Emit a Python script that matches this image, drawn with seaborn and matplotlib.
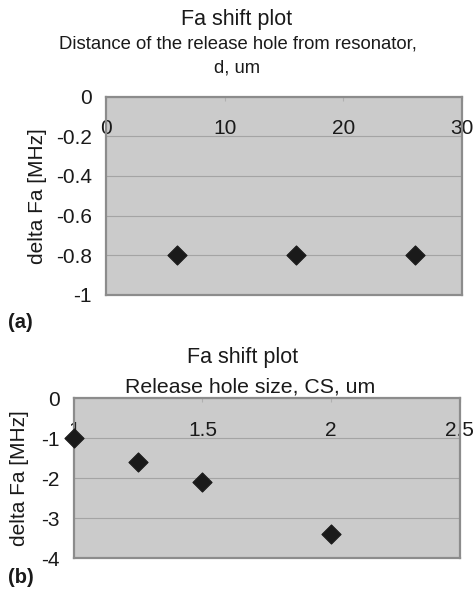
import matplotlib
matplotlib.use("Agg")
import matplotlib.pyplot as plt
import seaborn as sns
import pandas as pd

# panel (a): distance of release hole from resonator
dist_um = [6, 16, 26]
dist_shift = [-0.8, -0.8, -0.8]
dist_xticks = [0, 10, 20, 30]
dist_yticks = [0, -0.2, -0.4, -0.6, -0.8, -1]

# panel (b): release hole size
size_um = [1, 1.25, 1.5, 2]
size_shift = [-1, -1.6, -2.1, -3.4]
size_xticks = [1, 1.5, 2, 2.5]
size_yticks = [0, -1, -2, -3, -4]

sns.set_style("white")
plt.rcParams["font.family"] = ["Liberation Sans", "DejaVu Sans"]

face = "#cbcbcb"
edge = "#8c8c8c"

fig = plt.figure(figsize=(4.73, 5.97), dpi=100)


def style_ax(ax, xticks, yticks, pad):
    ax.set_facecolor(face)
    ax.set_xlim(xticks[0], xticks[-1])
    ax.set_ylim(yticks[-1], yticks[0])
    ax.set_xticks(xticks)
    ax.set_xticklabels([f"{v:g}" for v in xticks])
    ax.set_yticks(yticks)
    ax.set_yticklabels([f"{v:g}" for v in yticks])
    ax.xaxis.set_ticks_position("top")
    ax.tick_params(axis="x", direction="in", length=3, color="#b0b0b0",
                   labelsize=15, labelcolor="#1a1a1a", pad=pad)
    ax.tick_params(axis="y", direction="out", length=3, color="#b0b0b0",
                   labelsize=15, labelcolor="#1a1a1a", pad=7)
    ax.yaxis.grid(True, color="#a4a4a4", linewidth=0.8)
    ax.xaxis.grid(False)
    for s in ax.spines.values():
        s.set_color(edge)
        s.set_linewidth(1.6)
        s.set_visible(True)
    ax.set_xlabel("")
    ax.set_ylabel("delta Fa [MHz]", fontsize=15, color="#1a1a1a")


# panel (a)
ax1 = fig.add_axes([0.224, 0.506, 0.753, 0.332])
df_a = pd.DataFrame({"d": dist_um, "shift": dist_shift})
sns.scatterplot(data=df_a, x="d", y="shift", marker="D", s=95,
                color="#1a1a1a", edgecolor="#1a1a1a", ax=ax1, zorder=3)
style_ax(ax1, dist_xticks, dist_yticks, -30)
ax1.yaxis.set_label_coords(-0.165, 0.5)

tc = "#1a1a1a"
fig.text(0.5, 0.968, "Fa shift plot", ha="center", va="center",
         fontsize=15.5, color=tc)
fig.text(0.502, 0.926, "Distance of the release hole from resonator,",
         ha="center", va="center", fontsize=13.3, color=tc)
fig.text(0.502, 0.886, "d, um", ha="center", va="center", fontsize=13.3,
         color=tc)
fig.text(0.017, 0.46, "(a)", ha="left", va="center", fontsize=14.5,
         fontweight="bold", color=tc)

# panel (b)
ax2 = fig.add_axes([0.156, 0.065, 0.816, 0.268])
df_b = pd.DataFrame({"cs": size_um, "shift": size_shift})
sns.scatterplot(data=df_b, x="cs", y="shift", marker="D", s=95,
                color="#1a1a1a", edgecolor="#1a1a1a", ax=ax2, zorder=3,
                clip_on=False)
style_ax(ax2, size_xticks, size_yticks, -30)
ax2.yaxis.set_label_coords(-0.115, 0.5)

fig.text(0.512, 0.402, "Fa shift plot", ha="center", va="center",
         fontsize=15.5, color=tc)
fig.text(0.529, 0.352, "Release hole size, CS, um", ha="center",
         va="center", fontsize=15.3, color=tc)
fig.text(0.017, 0.032, "(b)", ha="left", va="center", fontsize=14.5,
         fontweight="bold", color=tc)

fig.savefig("out.png", dpi=100)
